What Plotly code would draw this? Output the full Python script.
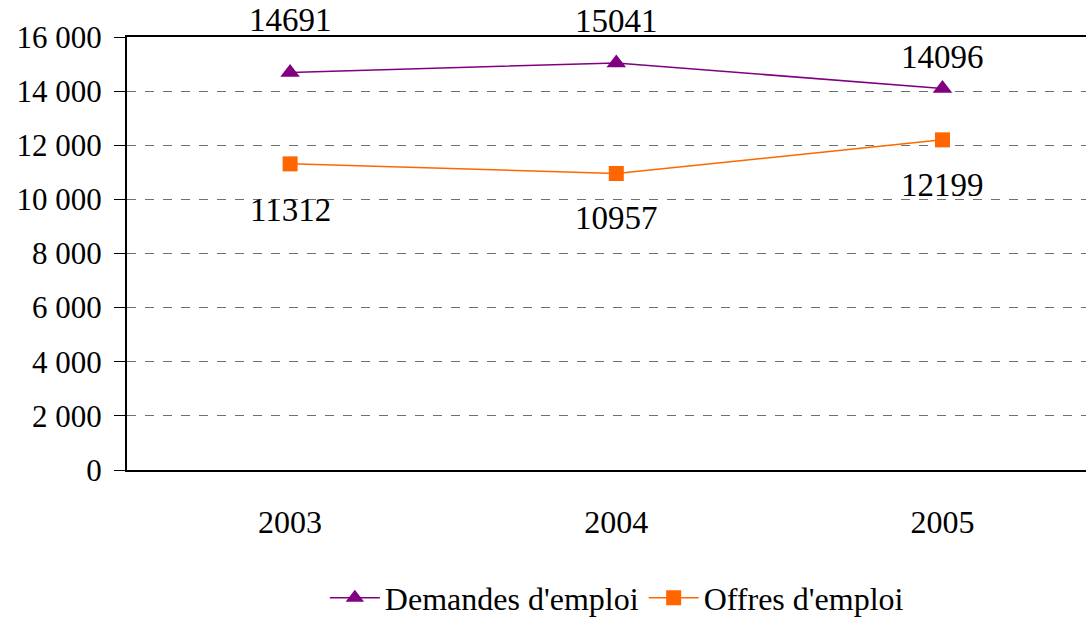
import plotly.graph_objects as go

years = ["2003", "2004", "2005"]
demandes = [14691, 15041, 14096]
offres = [11312, 10957, 12199]
y_tickvals = [0, 2000, 4000, 6000, 8000, 10000, 12000, 14000, 16000]
y_ticktext = ["0", "2 000", "4 000", "6 000", "8 000", "10 000", "12 000", "14 000", "16 000"]

FONT = "Liberation Serif"
PURPLE = "#800080"
ORANGE = "#FF6600"

fig = go.Figure()
fig.add_trace(go.Scatter(
    x=years, y=demandes, name="Demandes d'emploi", mode="lines+markers",
    line=dict(color=PURPLE, width=1.5),
    marker=dict(symbol="triangle-up", size=17, color=PURPLE),
))
fig.add_trace(go.Scatter(
    x=years, y=offres, name="Offres d'emploi", mode="lines+markers",
    line=dict(color=ORANGE, width=1.5),
    marker=dict(symbol="square", size=15, color=ORANGE),
))

d_shift = [52, 42, 32]
o_shift = [-46, -45, -45]
for i, v in enumerate(demandes):
    fig.add_annotation(x=i, y=v, text=str(v), showarrow=False, yshift=d_shift[i],
                       font=dict(family=FONT, size=33, color="black"))
for i, v in enumerate(offres):
    fig.add_annotation(x=i, y=v, text=str(v), showarrow=False, yshift=o_shift[i],
                       font=dict(family=FONT, size=33, color="black"))

fig.update_layout(
    width=1086, height=619,
    margin=dict(l=127, r=0, t=37, b=149),
    paper_bgcolor="white", plot_bgcolor="white",
    font=dict(family=FONT, size=31, color="black"),
    showlegend=True,
    legend=dict(orientation="h", xref="container", yref="container",
                x=0.568, xanchor="center", y=1 - 598 / 619, yanchor="middle",
                font=dict(family=FONT, size=32), itemwidth=50,
                bgcolor="rgba(0,0,0,0)"),
)
fig.update_xaxes(
    type="category", range=[-0.5, 2.44],
    showline=True, linecolor="black", linewidth=2, mirror=True,
    showgrid=False, ticks="", ticklabelstandoff=23,
    tickfont=dict(family=FONT, size=32),
)
fig.update_yaxes(
    range=[0, 16000], tickvals=y_tickvals, ticktext=y_ticktext,
    showline=True, linecolor="black", linewidth=2,
    showgrid=True, gridcolor="#707070", gridwidth=1, griddash="dash",
    ticks="outside", ticklen=11, tickcolor="black", tickwidth=1,
    ticklabelstandoff=6,
    tickfont=dict(family=FONT, size=31), zeroline=False,
)
fig.write_html("out.html", config={"displayModeBar": False},
               post_script="document.body.style.margin='0';document.body.style.overflow='hidden';")
